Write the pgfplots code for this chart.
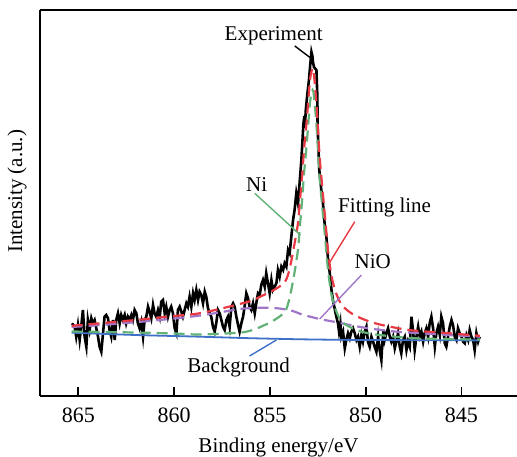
\documentclass[border=0pt]{standalone}
\usepackage{fontspec}
\setmainfont{Liberation Serif}
\usepackage{pgfplots}
\pgfplotsset{compat=1.18}
\definecolor{cred}{RGB}{232,58,68}
\definecolor{cgreen}{RGB}{98,178,120}
\definecolor{cpurple}{RGB}{160,118,200}
\definecolor{cblue}{RGB}{62,112,200}
\newcommand{\lbl}{\fontsize{10.5}{12.6}\selectfont}
\begin{document}
\begin{tikzpicture}
\begin{axis}[
  scale only axis, width=238.5pt, height=193pt,
  xmin=842.1, xmax=867.0, x dir=reverse, ymin=0, ymax=386,
  axis x line*=bottom, axis y line*=left,
  axis line style={line width=0.9pt,-},
  xtick={845,850,855,860,865}, ytick=\empty, xtick pos=bottom,
  xtick align=inside, major tick length=4.35pt,
  tick style={line width=0.9pt, black},
  /pgf/number format/assume math mode=true,
  tick label style={font=\fontsize{11}{13}\selectfont},
  xticklabel style={yshift=-2.5pt},
  label style={font=\lbl},
  xlabel={Binding energy/eV}, ylabel={Intensity (a.u.)},
  xlabel style={at={(axis description cs:0.5,-0.133)}, anchor=center},
  ylabel style={at={(axis description cs:-0.048,0.53)}, anchor=center},
  clip=false,
]
\draw[line width=0.9pt] (rel axis cs:0,1) -- (rel axis cs:1,1);
\addplot[black, line width=1.3pt] coordinates {
(865.33,72.7) (865.19,69.3) (865.11,59.3) (865.02,71) (864.93,56) (864.85,69.3) (864.76,86) (864.67,59.3) (864.58,49.3) (864.50,76)
(864.41,66) (864.32,77.7) (864.24,72.7) (864.15,76) (864.06,67.7) (863.97,59.3) (863.89,49.3) (863.80,44.3) (863.71,62.7) (863.63,79.3)
(863.54,81) (863.45,77.7) (863.37,66) (863.28,59.3) (863.19,76) (863.10,56) (863.02,76) (862.93,82.7) (862.84,72.7) (862.76,81)
(862.67,76) (862.58,81) (862.50,72.7) (862.41,79.3) (862.32,76) (862.23,81) (862.15,76) (862.06,86) (861.97,82.7) (861.89,72.7)
(861.80,67.7) (861.71,74.3) (861.62,59.3) (861.54,76) (861.45,79.3) (861.36,89.3) (861.28,84.3) (861.19,77.7) (861.10,91) (861.02,82.7)
(860.93,79.3) (860.84,86) (860.75,79.3) (860.67,94.3) (860.58,96) (860.49,82.7) (860.41,89.3) (860.32,79.3) (860.23,86) (860.15,89.3)
(860.06,82.7) (859.97,67.7) (859.88,62.7) (859.80,86) (859.71,89.3) (859.62,84.3) (859.54,79.3) (859.45,86) (859.36,92.7) (859.28,89.3)
(859.19,99.3) (859.10,89.3) (859.01,102.7) (858.93,96) (858.84,106) (858.75,96) (858.67,104.3) (858.58,101) (858.49,92.7) (858.40,104.3)
(858.32,99.3) (858.23,87.7) (858.14,82.7) (858.06,79.3) (857.97,69.3) (857.88,64.3) (857.80,72.7) (857.71,86) (857.62,82.7) (857.53,76)
(857.45,69.3) (857.36,66) (857.27,76) (857.19,79.3) (857.10,69.3) (857.01,89.3) (856.92,92.7) (856.84,89.3) (856.75,79.3) (856.66,71)
(856.58,64.3) (856.49,72.7) (856.40,79.3) (856.32,89.3) (856.23,102.7) (856.14,97.7) (856.06,89.3) (855.97,86) (855.88,92.7) (855.79,82.7)
(855.71,92.7) (855.62,102.7) (855.53,101) (855.45,111) (855.36,116) (855.27,109.3) (855.19,122.7) (855.10,112.7) (855.01,102.7) (854.92,116)
(854.84,106) (854.75,109.3) (854.66,112.7) (854.58,126) (854.49,119.3) (854.40,129.3) (854.31,126) (854.23,132.7) (854.14,129.3) (854.05,146)
(853.97,142.7) (853.88,159.3) (853.79,176) (853.71,186) (853.62,202.7) (853.53,192.7) (853.44,215) (853.36,235) (853.30,255) (853.25,272)
(853.20,280) (853.17,268) (853.13,285) (853.06,299) (852.96,316) (852.89,332) (852.83,344) (852.78,340) (852.75,334) (852.70,329)
(852.66,328) (852.57,326) (852.52,299) (852.51,270) (852.42,226) (852.31,205) (852.23,193) (852.14,172) (852.05,159) (851.97,138)
(851.88,124) (851.79,107) (851.71,96) (851.56,82) (851.44,72) (851.39,64.3) (851.32,72.7) (851.27,59.3) (851.18,64.3) (851.09,47.7)
(851.01,56) (850.92,62.7) (850.83,57.7) (850.75,64.3) (850.66,67.7) (850.57,62.7) (850.48,56) (850.40,59.3) (850.31,49.3) (850.22,61)
(850.14,54.3) (850.05,64.3) (849.96,69.3) (849.88,54.3) (849.79,49.3) (849.70,59.3) (849.61,54.3) (849.53,49.3) (849.44,44.3) (849.35,59.3)
(849.27,46) (849.18,36) (849.13,52.7) (849.06,66) (849.01,56) (848.92,62.7) (848.83,67.7) (848.74,59.3) (848.66,54.3) (848.57,59.3)
(848.48,47.7) (848.40,54.3) (848.31,62.7) (848.22,49.3) (848.14,42.7) (848.05,56) (847.96,59.3) (847.87,46) (847.79,54.3) (847.70,49.3)
(847.61,79.3) (847.53,66) (847.44,46) (847.35,59.3) (847.26,69.3) (847.18,59.3) (847.09,64.3) (847.00,54.3) (846.92,62.7) (846.83,67.7)
(846.74,59.3) (846.66,72.7) (846.57,79.3) (846.48,67.7) (846.39,49.3) (846.31,62.7) (846.22,69.3) (846.13,61) (846.05,79.3) (845.96,72.7)
(845.87,52.7) (845.79,49.3) (845.70,59.3) (845.61,69.3) (845.52,76) (845.44,71) (845.35,59.3) (845.26,56) (845.18,67.7) (845.09,62.7)
(845.00,59.3) (844.91,54.3) (844.83,52.7) (844.74,61) (844.65,56) (844.57,66) (844.48,59.3) (844.39,56) (844.31,46) (844.22,62.7)
(844.13,54.3) (844.05,59.3)
};
\addplot[cblue, line width=0.9pt, smooth] coordinates {
(865.35,63.3) (862,61) (859,59.5) (856,57.8) (853,56.6) (850,56) (847,55.8) (844.05,55.6)
};
\addplot[cpurple, line width=1.1pt, dash pattern=on 5.5pt off 3pt, smooth, tension=0.5] coordinates {
(865.35,69) (863.5,71.5) (861.6,74.5) (860.0,77.5) (858.65,80.5) (857.5,84) (856.6,87) (855.9,88) (855.17,88.3) (854.5,87.5)
(853.8,85) (853.4,82) (852.93,79.5) (852.40,77) (851.72,74.5) (851.2,72.5) (850.83,71) (849.79,67.5) (848.38,64.3) (847.33,63)
(846.5,62) (845.5,60.8) (844.04,59.3)
};
\addplot[cgreen, line width=1.1pt, dash pattern=on 5.5pt off 3pt, smooth, tension=0.5] coordinates {
(865.35,64.5) (862.0,63.5) (860.0,62.5) (858.8,61.5) (857.9,62) (856.5,63.5) (855.9,66) (855.5,69) (854.85,75) (854.23,84)
(853.97,98) (853.71,124) (853.53,147) (853.44,168) (853.30,200) (853.22,222) (853.09,249) (852.96,281) (852.89,296) (852.77,306)
(852.70,300) (852.57,272) (852.47,240) (852.40,218) (852.26,188) (852.10,155) (851.97,127) (851.79,102) (851.56,86) (851.27,75)
(850.83,69) (850.15,64) (849.26,61) (847.70,58) (846.0,57) (844.04,56.5)
};
\addplot[cred, line width=1.1pt, dash pattern=on 5.5pt off 3pt, smooth, tension=0.5] coordinates {
(865.35,70.2) (862.0,76) (860.0,80) (858.8,82.3) (857.9,85.8) (856.5,92.4) (855.9,95.7) (855.5,99.4) (854.85,105.4) (854.23,113.7)
(853.97,127.2) (853.71,152.6) (853.53,173.2) (853.44,193.2) (853.30,224.5) (853.22,246) (853.09,272.4) (852.96,303.8) (852.89,318.4) (852.77,327.8)
(852.70,321.5) (852.57,293) (852.47,260.7) (852.40,238.5) (852.26,208) (852.10,174.6) (851.97,146) (851.79,120.5) (851.56,103.7) (851.27,91.9)
(850.83,83.8) (850.15,77) (849.26,71.5) (847.70,65.9) (846.0,63.3) (844.04,60.2)
};
\node[font=\lbl] at (axis cs:854.80,360) {Experiment};
\draw[black, line width=0.7pt] (axis cs:853.70,350) -- (axis cs:852.87,338);
\node[font=\lbl] at (axis cs:855.69,211) {Ni};
\draw[cgreen, line width=0.7pt] (axis cs:855.79,202.7) -- (axis cs:853.41,161);
\node[font=\lbl] at (axis cs:849.01,189) {Fitting line};
\draw[cred, line width=0.7pt] (axis cs:850.57,174.3) -- (axis cs:851.91,132.7);
\node[font=\lbl] at (axis cs:849.63,134) {NiO};
\draw[cpurple, line width=0.7pt] (axis cs:850.22,121) -- (axis cs:852.40,77);
\node[font=\lbl] at (axis cs:856.63,29) {Background};
\draw[cblue, line width=0.7pt] (axis cs:856.06,40) -- (axis cs:854.66,56);
\end{axis}
\pgfresetboundingbox
\path[use as bounding box] ([xshift=-20pt,yshift=-30pt]current axis.south west) rectangle ([yshift=5pt]current axis.north east);
\end{tikzpicture}
\end{document}
